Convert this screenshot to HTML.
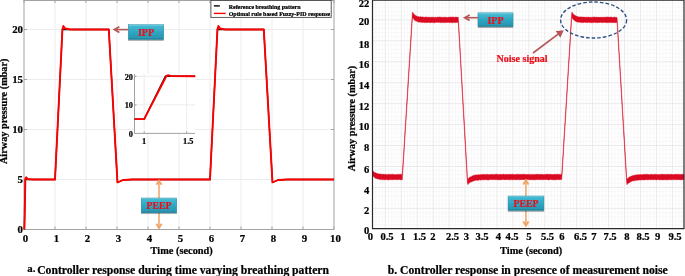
<!DOCTYPE html><html><head><meta charset="utf-8"><title>Controller response</title>
<style>html,body{margin:0;padding:0;background:#fff}svg{display:block}text{font-family:"Liberation Serif","Times New Roman",serif;font-weight:bold;fill:#000;stroke:#000;stroke-width:0.22px}.r{fill:#e8111a;stroke:#e8111a}</style>
</head><body>
<svg width="685" height="276" viewBox="0 0 685 276">
<defs>
<linearGradient id="tb" x1="0" y1="0" x2="0" y2="1"><stop offset="0" stop-color="#8fdcec"/><stop offset="0.1" stop-color="#45b9d3"/><stop offset="0.5" stop-color="#2ea6c2"/><stop offset="0.88" stop-color="#2a98b3"/><stop offset="1" stop-color="#1d748c"/></linearGradient>
<filter id="sh" x="-10%" y="-10%" width="125%" height="140%"><feGaussianBlur in="SourceAlpha" stdDeviation="0.55"/><feOffset dx="0.4" dy="0.6" result="o"/><feComponentTransfer><feFuncA type="linear" slope="0.4"/></feComponentTransfer><feMerge><feMergeNode/><feMergeNode in="SourceGraphic"/></feMerge></filter>
</defs>
<rect width="685" height="276" fill="#fff"/>
<g id="left-chart">
<path d="M55.0 0V229.5M86.0 0V229.5M117.0 0V229.5M148.0 0V229.5M179.0 0V229.5M210.0 0V229.5M241.0 0V229.5M272.0 0V229.5M303.0 0V229.5M24.0 179.50H334.0M24.0 129.50H334.0M24.0 79.50H334.0M24.0 29.50H334.0" stroke="#ececec" stroke-width="1" fill="none"/>
<path d="M24.0 0V229.5H334.0V0M24.0 0.5H334.0" stroke="#a2a2a2" stroke-width="1" fill="none"/>
<path d="M24.0 229.5v-3M24.0 0v3M55.0 229.5v-3M55.0 0v3M86.0 229.5v-3M86.0 0v3M117.0 229.5v-3M117.0 0v3M148.0 229.5v-3M148.0 0v3M179.0 229.5v-3M179.0 0v3M210.0 229.5v-3M210.0 0v3M241.0 229.5v-3M241.0 0v3M272.0 229.5v-3M272.0 0v3M303.0 229.5v-3M303.0 0v3M334.0 229.5v-3M334.0 0v3M24.0 229.50h3M334.0 229.50h-3M24.0 179.50h3M334.0 179.50h-3M24.0 129.50h3M334.0 129.50h-3M24.0 79.50h3M334.0 79.50h-3M24.0 29.50h3M334.0 29.50h-3" stroke="#a2a2a2" stroke-width="1" fill="none"/>
<path d="M24.37 229.50L25.39 179.50L33.30 179.50L55.00 179.50L55.00 179.50L62.44 29.50L70.50 29.50L108.79 29.50L117.47 182.30L118.55 182.00L123.20 180.00L132.50 179.50L210.00 179.50L217.44 29.50L225.50 29.50L263.78 29.50L272.47 182.30L273.55 182.00L278.20 180.00L287.50 179.50L334.00 179.50" stroke="#000" stroke-width="1.3" fill="none" stroke-linejoin="miter"/>
<path d="M24.37 229.50L25.39 178.50L26.17 177.30L27.72 179.00L33.30 179.50L55.00 179.50L55.00 179.50L62.44 29.50L63.37 26.00L65.23 28.50L70.50 29.50L108.79 29.50L117.47 182.30L118.55 182.00L123.20 180.00L132.50 179.50L210.00 179.50L217.44 29.50L218.37 26.00L220.23 28.50L225.50 29.50L263.78 29.50L272.47 182.30L273.55 182.00L278.20 180.00L287.50 179.50L334.00 179.50" stroke="#ff0000" stroke-width="1.9" fill="none" stroke-linejoin="round"/>
<text x="25.5" y="241.5" font-size="10.8" text-anchor="middle">0</text>
<text x="56.5" y="241.5" font-size="10.8" text-anchor="middle">1</text>
<text x="87.5" y="241.5" font-size="10.8" text-anchor="middle">2</text>
<text x="118.5" y="241.5" font-size="10.8" text-anchor="middle">3</text>
<text x="149.5" y="241.5" font-size="10.8" text-anchor="middle">4</text>
<text x="180.5" y="241.5" font-size="10.8" text-anchor="middle">5</text>
<text x="211.5" y="241.5" font-size="10.8" text-anchor="middle">6</text>
<text x="242.5" y="241.5" font-size="10.8" text-anchor="middle">7</text>
<text x="273.5" y="241.5" font-size="10.8" text-anchor="middle">8</text>
<text x="304.5" y="241.5" font-size="10.8" text-anchor="middle">9</text>
<text x="335.5" y="241.5" font-size="10.8" text-anchor="middle">10</text>
<text x="23" y="233.3" font-size="10.8" text-anchor="end">0</text>
<text x="23" y="183.3" font-size="10.8" text-anchor="end">5</text>
<text x="23" y="133.3" font-size="10.8" text-anchor="end">10</text>
<text x="23" y="83.3" font-size="10.8" text-anchor="end">15</text>
<text x="23" y="33.4" font-size="10.8" text-anchor="end">20</text>
<text x="181.7" y="253.9" font-size="10.35" text-anchor="middle">Time (second)</text>
<text transform="translate(7.3 111.3) rotate(-90)" font-size="10.25" text-anchor="middle">Airway pressure (mbar)</text>
<rect x="210.9" y="0.5" width="120.3" height="16.9" fill="#fff" stroke="#4a4a4a" stroke-width="0.9"/>
<path d="M213.9 5.9H219.8" stroke="#000" stroke-width="1.4"/>
<path d="M213.9 13.4H225.7" stroke="#ff0000" stroke-width="1.4"/>
<text x="228.7" y="8.9" font-size="5.96">Reference breathing pattern</text>
<text x="228.7" y="16" font-size="5.96">Optimal rule based Fuzzy-PID response</text>
<rect x="134.5" y="74" width="60.5" height="59.4" fill="#fff"/>
<path d="M144.2 74V133.4M186.7 74V133.4M134.5 104.9H195M134.5 76.3H195" stroke="#ececec" stroke-width="1" fill="none"/>
<path d="M134.5 74V133.4H195" stroke="#a2a2a2" stroke-width="1" fill="none"/>
<path d="M134.5 104.9h2M134.5 76.3h2M144.2 133.4v-2M186.7 133.4v-2" stroke="#a2a2a2" stroke-width="1" fill="none"/>
<path d="M134.51 119.12L144.20 119.12L165.45 76.30L195.20 76.30" stroke="#000" stroke-width="1.4" fill="none"/>
<path d="M134.51 119.12L144.20 119.12L166.30 76.30L168.00 75.16L171.40 76.16L195.20 76.30" stroke="#ff0000" stroke-width="1.9" fill="none" stroke-linejoin="round"/>
<text x="133" y="136.9" font-size="8.3" text-anchor="end">0</text>
<text x="133" y="108.4" font-size="8.3" text-anchor="end">10</text>
<text x="133" y="79.8" font-size="8.3" text-anchor="end">20</text>
<text x="144.2" y="143.6" font-size="8.3" text-anchor="middle">1</text>
<text x="188.2" y="143.6" font-size="8.3" text-anchor="middle">1.5</text>
<rect x="128.4" y="24.6" width="35.2" height="14.9" fill="url(#tb)" stroke="#2a8fa8" stroke-width="0.5" filter="url(#sh)"/>
<text x="146.0" y="35.6" font-size="10" text-anchor="middle" class="r">IPP</text>
<path d="M128.3 29.6H115" stroke="#b65659" stroke-width="1.6" fill="none"/><path d="M119.4 26.8L114.3 29.6L119.4 32.4" stroke="#b65659" stroke-width="1.7" fill="none" stroke-linejoin="miter"/>
<path d="M159 181V227.6" stroke="#f0a367" stroke-width="1.5" fill="none"/><path d="M156.4 184.8L159 180.6L161.6 184.8M156.4 223.8L159 228L161.6 223.8" fill="none" stroke="#f0a367" stroke-width="1.8"/>
<rect x="141.3" y="198" width="35.4" height="14.8" fill="url(#tb)" stroke="#2a8fa8" stroke-width="0.5" filter="url(#sh)"/>
<text x="159.0" y="208.7" font-size="9.7" text-anchor="middle" class="r">PEEP</text>
<text x="27.3" y="272.1" font-size="10.8">a.</text>
<text x="37.2" y="273.5" font-size="11.66">Controller response during time varying breathing pattern</text>
</g>
<g id="right-chart">
<path d="M375.78 1V228.6M378.97 1V228.6M382.16 1V228.6M388.54 1V228.6M391.73 1V228.6M394.92 1V228.6M398.10 1V228.6M404.48 1V228.6M407.67 1V228.6M410.86 1V228.6M414.05 1V228.6M420.43 1V228.6M423.62 1V228.6M426.81 1V228.6M430.00 1V228.6M436.38 1V228.6M439.57 1V228.6M442.76 1V228.6M445.95 1V228.6M452.32 1V228.6M455.51 1V228.6M458.70 1V228.6M461.89 1V228.6M468.27 1V228.6M471.46 1V228.6M474.65 1V228.6M477.84 1V228.6M484.22 1V228.6M487.41 1V228.6M490.60 1V228.6M493.79 1V228.6M500.17 1V228.6M503.35 1V228.6M506.54 1V228.6M509.73 1V228.6M516.11 1V228.6M519.30 1V228.6M522.49 1V228.6M525.68 1V228.6M532.06 1V228.6M535.25 1V228.6M538.44 1V228.6M541.63 1V228.6M548.01 1V228.6M551.20 1V228.6M554.39 1V228.6M557.57 1V228.6M563.95 1V228.6M567.14 1V228.6M570.33 1V228.6M573.52 1V228.6M579.90 1V228.6M583.09 1V228.6M586.28 1V228.6M589.47 1V228.6M595.85 1V228.6M599.04 1V228.6M602.23 1V228.6M605.42 1V228.6M611.79 1V228.6M614.98 1V228.6M618.17 1V228.6M621.36 1V228.6M627.74 1V228.6M630.93 1V228.6M634.12 1V228.6M637.31 1V228.6M643.69 1V228.6M646.88 1V228.6M650.07 1V228.6M653.26 1V228.6M659.64 1V228.6M662.82 1V228.6M666.01 1V228.6M669.20 1V228.6M675.58 1V228.6M678.77 1V228.6M681.96 1V228.6M372.5 225.11H684.0M372.5 220.92H684.0M372.5 216.74H684.0M372.5 212.55H684.0M372.5 204.17H684.0M372.5 199.98H684.0M372.5 195.80H684.0M372.5 191.61H684.0M372.5 183.23H684.0M372.5 179.04H684.0M372.5 174.86H684.0M372.5 170.67H684.0M372.5 162.29H684.0M372.5 158.10H684.0M372.5 153.92H684.0M372.5 149.73H684.0M372.5 141.35H684.0M372.5 137.16H684.0M372.5 132.98H684.0M372.5 128.79H684.0M372.5 120.41H684.0M372.5 116.22H684.0M372.5 112.04H684.0M372.5 107.85H684.0M372.5 99.47H684.0M372.5 95.28H684.0M372.5 91.10H684.0M372.5 86.91H684.0M372.5 78.53H684.0M372.5 74.34H684.0M372.5 70.16H684.0M372.5 65.97H684.0M372.5 57.59H684.0M372.5 53.40H684.0M372.5 49.22H684.0M372.5 45.03H684.0M372.5 36.65H684.0M372.5 32.46H684.0M372.5 28.28H684.0M372.5 24.09H684.0M372.5 15.71H684.0M372.5 11.52H684.0M372.5 7.34H684.0M372.5 3.15H684.0" stroke="#f6f6f6" stroke-width="0.8" fill="none"/>
<path d="M385.35 1V228.6M401.29 1V228.6M417.24 1V228.6M433.19 1V228.6M449.13 1V228.6M465.08 1V228.6M481.03 1V228.6M496.98 1V228.6M512.92 1V228.6M528.87 1V228.6M544.82 1V228.6M560.76 1V228.6M576.71 1V228.6M592.66 1V228.6M608.61 1V228.6M624.55 1V228.6M640.50 1V228.6M656.45 1V228.6M672.39 1V228.6M372.5 208.36H684.0M372.5 187.42H684.0M372.5 166.48H684.0M372.5 145.54H684.0M372.5 124.60H684.0M372.5 103.66H684.0M372.5 82.72H684.0M372.5 61.78H684.0M372.5 40.84H684.0M372.5 19.90H684.0" stroke="#eaeaea" stroke-width="1" fill="none"/>
<path d="M372.50 170.07L372.85 170.39L373.20 170.90L373.55 171.56L373.90 171.92L374.25 172.21L374.60 172.29L374.95 172.70L375.30 172.64L375.65 172.86L376.00 172.81L376.35 173.02L376.70 173.54L377.05 173.57L377.40 173.74L377.75 173.58L378.10 173.71L378.45 174.05L378.80 173.78L379.15 174.03L379.50 174.01L379.85 173.86L380.20 174.20L380.55 174.08L380.90 174.00L381.25 173.89L381.60 174.23L381.95 174.39L382.30 174.47L382.65 174.09L383.00 174.04L383.35 174.16L383.70 174.23L384.05 174.10L384.40 174.31L384.75 174.54L385.10 174.23L385.45 174.14L385.80 174.38L386.15 174.59L386.50 174.51L386.85 174.58L387.20 174.54L387.55 174.40L387.90 174.57L388.25 174.32L388.60 174.17L388.95 174.47L389.30 174.43L389.65 174.10L390.00 174.53L390.35 174.50L390.70 174.31L391.05 174.63L391.40 174.43L391.75 174.11L392.10 174.35L392.45 174.26L392.80 174.14L393.15 174.16L393.50 174.42L393.85 174.58L394.20 174.60L394.55 174.52L394.90 174.45L395.25 174.64L395.60 174.58L395.95 174.62L396.30 174.30L396.65 174.50L397.00 174.44L397.35 174.17L397.70 174.38L398.05 174.59L398.40 174.45L398.75 174.18L399.10 174.63L399.45 174.35L399.80 174.34L400.15 174.35L400.50 174.16L400.85 174.50L401.20 174.55L401.55 174.35L401.90 174.46L402.25 174.19L402.60 169.34L402.95 163.75L403.30 158.47L403.65 152.79L404.00 147.37L404.35 141.63L404.70 135.64L405.05 130.04L405.40 124.43L405.75 119.22L406.10 113.63L406.45 107.79L406.80 102.06L407.15 96.55L407.50 91.26L407.85 85.20L408.20 79.68L408.55 74.38L408.90 68.69L409.25 62.73L409.60 57.44L409.95 51.65L410.30 46.38L410.65 40.34L411.00 35.15L411.35 29.08L411.70 23.82L412.05 18.33L412.40 12.27L412.75 12.27L413.10 12.91L413.45 13.22L413.80 13.99L414.15 14.40L414.50 14.74L414.85 15.12L415.20 15.27L415.55 15.38L415.90 15.68L416.25 15.82L416.60 15.97L416.95 16.16L417.30 16.53L417.65 16.54L418.00 16.34L418.35 16.64L418.70 16.59L419.05 16.90L419.40 16.88L419.75 16.65L420.10 16.81L420.45 16.65L420.80 16.85L421.15 16.94L421.50 17.00L421.85 17.01L422.20 16.91L422.55 16.79L422.90 17.02L423.25 16.88L423.60 17.28L423.95 17.32L424.30 17.33L424.65 16.95L425.00 17.30L425.35 17.03L425.70 16.91L426.05 17.28L426.40 17.19L426.75 16.87L427.10 17.33L427.45 17.13L427.80 17.31L428.15 17.03L428.50 17.12L428.85 17.42L429.20 17.09L429.55 17.39L429.90 17.00L430.25 17.37L430.60 17.41L430.95 17.28L431.30 17.20L431.65 16.98L432.00 17.35L432.35 17.12L432.70 17.39L433.05 17.06L433.40 17.40L433.75 17.09L434.10 17.39L434.45 17.40L434.80 17.19L435.15 17.13L435.50 17.29L435.85 17.15L436.20 17.38L436.55 17.41L436.90 17.27L437.25 17.02L437.60 17.16L437.95 17.25L438.30 17.30L438.65 17.04L439.00 17.34L439.35 16.93L439.70 16.99L440.05 17.17L440.40 17.22L440.75 17.06L441.10 17.25L441.45 17.05L441.80 17.22L442.15 17.41L442.50 17.40L442.85 17.30L443.20 17.39L443.55 16.96L443.90 17.28L444.25 17.28L444.60 17.35L444.95 17.29L445.30 16.90L445.65 17.31L446.00 17.27L446.35 17.44L446.70 17.18L447.05 17.33L447.40 17.44L447.75 17.39L448.10 17.42L448.45 17.27L448.80 17.12L449.15 17.03L449.50 17.05L449.85 17.23L450.20 16.90L450.55 17.04L450.90 17.42L451.25 16.95L451.60 17.04L451.95 17.36L452.30 17.16L452.65 17.00L453.00 17.12L453.35 17.06L453.70 17.31L454.05 17.37L454.40 17.38L454.75 17.13L455.10 17.10L455.45 17.17L455.80 17.00L456.15 17.16L456.50 17.08L456.85 17.03L457.20 17.40L457.55 17.04L457.90 17.03L458.25 17.17L458.60 22.44L458.95 28.46L459.30 34.70L459.65 41.15L460.00 46.99L460.35 53.26L460.70 59.71L461.05 65.55L461.40 71.72L461.75 77.98L462.10 84.18L462.45 90.12L462.80 96.25L463.15 102.95L463.50 108.68L463.85 115.05L464.20 121.36L464.55 127.53L464.90 133.74L465.25 139.47L465.60 145.72L465.95 151.85L466.30 158.39L466.65 164.42L467.00 170.86L467.35 176.78L467.70 179.36L468.05 178.89L468.40 178.72L468.75 177.94L469.10 177.60L469.45 177.34L469.80 177.38L470.15 176.81L470.50 176.95L470.85 176.80L471.20 176.71L471.55 176.45L471.90 176.31L472.25 176.03L472.60 175.97L472.95 175.57L473.30 175.60L473.65 175.33L474.00 175.36L474.35 175.26L474.70 175.17L475.05 175.35L475.40 174.93L475.75 175.12L476.10 175.16L476.45 174.73L476.80 174.86L477.15 174.87L477.50 175.04L477.85 174.98L478.20 174.79L478.55 174.53L478.90 174.75L479.25 174.86L479.60 174.75L479.95 174.79L480.30 174.58L480.65 174.46L481.00 174.63L481.35 174.63L481.70 174.79L482.05 174.28L482.40 174.52L482.75 174.31L483.10 174.62L483.45 174.54L483.80 174.23L484.15 174.26L484.50 174.72L484.85 174.24L485.20 174.40L485.55 174.50L485.90 174.26L486.25 174.17L486.60 174.64L486.95 174.41L487.30 174.17L487.65 174.33L488.00 174.43L488.35 174.66L488.70 174.55L489.05 174.32L489.40 174.60L489.75 174.32L490.10 174.60L490.45 174.38L490.80 174.45L491.15 174.33L491.50 174.49L491.85 174.13L492.20 174.17L492.55 174.53L492.90 174.13L493.25 174.48L493.60 174.38L493.95 174.42L494.30 174.28L494.65 174.52L495.00 174.46L495.35 174.27L495.70 174.21L496.05 174.37L496.40 174.11L496.75 174.19L497.10 174.52L497.45 174.48L497.80 174.37L498.15 174.52L498.50 174.28L498.85 174.56L499.20 174.53L499.55 174.56L499.90 174.61L500.25 174.15L500.60 174.24L500.95 174.13L501.30 174.54L501.65 174.23L502.00 174.28L502.35 174.44L502.70 174.55L503.05 174.49L503.40 174.12L503.75 174.11L504.10 174.44L504.45 174.19L504.80 174.61L505.15 174.44L505.50 174.53L505.85 174.15L506.20 174.41L506.55 174.22L506.90 174.62L507.25 174.13L507.60 174.23L507.95 174.45L508.30 174.11L508.65 174.50L509.00 174.47L509.35 174.64L509.70 174.14L510.05 174.12L510.40 174.51L510.75 174.11L511.10 174.43L511.45 174.40L511.80 174.13L512.15 174.20L512.50 174.19L512.85 174.31L513.20 174.46L513.55 174.21L513.90 174.53L514.25 174.50L514.60 174.62L514.95 174.46L515.30 174.15L515.65 174.49L516.00 174.59L516.35 174.25L516.70 174.51L517.05 174.30L517.40 174.23L517.75 174.27L518.10 174.18L518.45 174.33L518.80 174.23L519.15 174.50L519.50 174.56L519.85 174.32L520.20 174.42L520.55 174.36L520.90 174.19L521.25 174.09L521.60 174.38L521.95 174.18L522.30 174.62L522.65 174.57L523.00 174.10L523.35 174.13L523.70 174.16L524.05 174.50L524.40 174.12L524.75 174.31L525.10 174.52L525.45 174.56L525.80 174.50L526.15 174.28L526.50 174.63L526.85 174.27L527.20 174.47L527.55 174.20L527.90 174.60L528.25 174.42L528.60 174.29L528.95 174.55L529.30 174.41L529.65 174.47L530.00 174.47L530.35 174.44L530.70 174.16L531.05 174.44L531.40 174.24L531.75 174.64L532.10 174.41L532.45 174.42L532.80 174.39L533.15 174.63L533.50 174.29L533.85 174.59L534.20 174.44L534.55 174.56L534.90 174.35L535.25 174.58L535.60 174.20L535.95 174.53L536.30 174.12L536.65 174.37L537.00 174.13L537.35 174.14L537.70 174.19L538.05 174.21L538.40 174.42L538.75 174.18L539.10 174.52L539.45 174.35L539.80 174.57L540.15 174.24L540.50 174.62L540.85 174.22L541.20 174.18L541.55 174.31L541.90 174.29L542.25 174.41L542.60 174.41L542.95 174.39L543.30 174.63L543.65 174.37L544.00 174.22L544.35 174.39L544.70 174.38L545.05 174.57L545.40 174.59L545.75 174.36L546.10 174.29L546.45 174.24L546.80 174.36L547.15 174.36L547.50 174.12L547.85 174.17L548.20 174.24L548.55 174.53L548.90 174.37L549.25 174.14L549.60 174.21L549.95 174.60L550.30 174.22L550.65 174.15L551.00 174.19L551.35 174.36L551.70 174.53L552.05 174.36L552.40 174.62L552.75 174.55L553.10 174.27L553.45 174.55L553.80 174.58L554.15 174.29L554.50 174.16L554.85 174.32L555.20 174.58L555.55 174.29L555.90 174.20L556.25 174.09L556.60 174.44L556.95 174.40L557.30 174.23L557.65 174.19L558.00 174.29L558.35 174.32L558.70 174.47L559.05 174.62L559.40 174.30L559.75 174.36L560.10 174.57L560.45 174.28L560.80 174.64L561.15 174.58L561.50 174.52L561.85 172.68L562.20 166.97L562.55 161.55L562.90 155.80L563.25 150.19L563.60 144.07L563.95 138.63L564.30 133.16L564.65 127.16L565.00 121.43L565.35 115.57L565.70 110.26L566.05 104.68L566.40 98.79L566.75 93.29L567.10 87.62L567.45 81.42L567.80 76.14L568.15 70.28L568.50 64.42L568.85 59.00L569.20 53.45L569.55 47.36L569.90 42.09L570.25 36.00L570.60 30.31L570.95 24.90L571.30 19.20L571.65 13.46L572.00 12.09L572.35 12.68L572.70 13.29L573.05 13.63L573.40 14.33L573.75 14.30L574.10 14.66L574.45 15.28L574.80 15.26L575.15 15.47L575.50 15.59L575.85 16.11L576.20 16.04L576.55 16.15L576.90 16.37L577.25 16.34L577.60 16.57L577.95 16.57L578.30 16.84L578.65 16.97L579.00 16.98L579.35 17.05L579.70 16.96L580.05 17.17L580.40 16.83L580.75 16.86L581.10 17.23L581.45 17.09L581.80 16.85L582.15 17.29L582.50 16.83L582.85 17.29L583.20 17.30L583.55 16.90L583.90 17.03L584.25 17.04L584.60 17.34L584.95 16.98L585.30 17.23L585.65 17.40L586.00 17.26L586.35 17.21L586.70 16.89L587.05 16.95L587.40 17.41L587.75 17.18L588.10 17.24L588.45 17.13L588.80 16.96L589.15 16.98L589.50 17.43L589.85 17.01L590.20 17.43L590.55 17.16L590.90 17.33L591.25 17.24L591.60 17.29L591.95 17.28L592.30 17.05L592.65 17.38L593.00 17.39L593.35 17.05L593.70 17.09L594.05 17.22L594.40 16.95L594.75 16.95L595.10 17.33L595.45 16.94L595.80 17.23L596.15 17.31L596.50 17.15L596.85 17.02L597.20 17.25L597.55 17.35L597.90 17.08L598.25 17.35L598.60 17.01L598.95 17.37L599.30 16.95L599.65 17.33L600.00 17.05L600.35 17.35L600.70 17.30L601.05 17.15L601.40 17.26L601.75 16.90L602.10 17.38L602.45 17.38L602.80 16.90L603.15 17.04L603.50 17.33L603.85 17.38L604.20 17.23L604.55 17.22L604.90 17.06L605.25 17.09L605.60 17.36L605.95 17.22L606.30 16.94L606.65 17.12L607.00 17.21L607.35 17.04L607.70 17.01L608.05 16.97L608.40 17.09L608.75 17.27L609.10 17.39L609.45 17.01L609.80 17.09L610.15 17.21L610.50 17.10L610.85 17.07L611.20 17.34L611.55 17.01L611.90 17.17L612.25 17.42L612.60 17.35L612.95 16.92L613.30 17.38L613.65 17.14L614.00 17.16L614.35 16.98L614.70 17.21L615.05 17.32L615.40 17.22L615.75 17.37L616.10 17.24L616.45 17.29L616.80 17.43L617.15 18.24L617.50 24.15L617.85 30.09L618.20 35.58L618.55 41.85L618.90 47.63L619.25 53.65L619.60 59.15L619.95 65.21L620.30 71.22L620.65 77.03L621.00 82.65L621.35 88.72L621.70 94.55L622.05 100.27L622.40 106.13L622.75 112.27L623.10 118.12L623.45 124.23L623.80 129.95L624.15 135.81L624.50 141.62L624.85 147.37L625.20 153.09L625.55 159.45L625.90 164.86L626.25 171.15L626.60 176.76L626.95 179.44L627.30 178.71L627.65 178.67L628.00 178.28L628.35 177.92L628.70 177.34L629.05 177.50L629.40 177.03L629.75 176.78L630.10 176.52L630.45 176.66L630.80 176.31L631.15 176.21L631.50 176.00L631.85 176.05L632.20 175.79L632.55 175.69L632.90 175.58L633.25 175.46L633.60 175.66L633.95 175.33L634.30 175.15L634.65 175.24L635.00 174.85L635.35 174.97L635.70 175.25L636.05 174.84L636.40 174.99L636.75 174.85L637.10 174.60L637.45 174.66L637.80 174.84L638.15 174.79L638.50 174.68L638.85 174.83L639.20 174.69L639.55 174.44L639.90 174.42L640.25 174.58L640.60 174.56L640.95 174.47L641.30 174.63L641.65 174.63L642.00 174.44L642.35 174.75L642.70 174.28L643.05 174.73L643.40 174.74L643.75 174.23L644.10 174.37L644.45 174.22L644.80 174.38L645.15 174.33L645.50 174.33L645.85 174.33L646.20 174.28L646.55 174.59L646.90 174.26L647.25 174.32L647.60 174.23L647.95 174.37L648.30 174.51L648.65 174.50L649.00 174.32L649.35 174.64L649.70 174.64L650.05 174.22L650.40 174.16L650.75 174.65L651.10 174.33L651.45 174.12L651.80 174.43L652.15 174.30L652.50 174.57L652.85 174.65L653.20 174.58L653.55 174.60L653.90 174.58L654.25 174.25L654.60 174.24L654.95 174.62L655.30 174.25L655.65 174.24L656.00 174.30L656.35 174.39L656.70 174.50L657.05 174.25L657.40 174.64L657.75 174.19L658.10 174.47L658.45 174.55L658.80 174.38L659.15 174.44L659.50 174.40L659.85 174.56L660.20 174.44L660.55 174.30L660.90 174.43L661.25 174.12L661.60 174.33L661.95 174.61L662.30 174.25L662.65 174.46L663.00 174.10L663.35 174.31L663.70 174.40L664.05 174.43L664.40 174.31L664.75 174.20L665.10 174.64L665.45 174.41L665.80 174.19L666.15 174.62L666.50 174.19L666.85 174.33L667.20 174.17L667.55 174.26L667.90 174.45L668.25 174.34L668.60 174.53L668.95 174.13L669.30 174.31L669.65 174.38L670.00 174.50L670.35 174.20L670.70 174.59L671.05 174.22L671.40 174.32L671.75 174.15L672.10 174.38L672.45 174.54L672.80 174.54L673.15 174.44L673.50 174.42L673.85 174.56L674.20 174.09L674.55 174.58L674.90 174.21L675.25 174.31L675.60 174.35L675.95 174.62L676.30 174.16L676.65 174.33L677.00 174.21L677.35 174.12L677.70 174.19L678.05 174.50L678.40 174.53L678.75 174.59L679.10 174.33L679.45 174.39L679.80 174.14L680.15 174.31L680.50 174.57L680.85 174.50L681.20 174.29L681.55 174.27L681.90 174.39L682.25 174.11L682.60 174.52L682.95 174.50L683.30 174.14L683.65 174.18L684.00 174.21L684.00 179.85L683.65 179.49L683.30 179.96L682.95 179.65L682.60 179.48L682.25 180.01L681.90 179.55L681.55 179.68L681.20 179.99L680.85 179.77L680.50 179.99L680.15 179.68L679.80 179.50L679.45 179.98L679.10 179.94L678.75 179.49L678.40 179.56L678.05 179.48L677.70 179.99L677.35 179.88L677.00 179.69L676.65 179.60L676.30 179.73L675.95 180.01L675.60 179.47L675.25 179.65L674.90 179.55L674.55 179.81L674.20 179.67L673.85 179.49L673.50 179.74L673.15 179.77L672.80 179.85L672.45 179.57L672.10 179.78L671.75 179.75L671.40 179.95L671.05 179.59L670.70 179.90L670.35 179.71L670.00 179.87L669.65 179.57L669.30 179.83L668.95 179.59L668.60 179.87L668.25 179.90L667.90 179.51L667.55 179.96L667.20 179.90L666.85 179.61L666.50 179.94L666.15 179.92L665.80 179.95L665.45 179.78L665.10 179.61L664.75 179.62L664.40 179.95L664.05 179.84L663.70 179.95L663.35 179.63L663.00 179.92L662.65 179.79L662.30 179.92L661.95 180.00L661.60 179.62L661.25 179.89L660.90 179.89L660.55 179.69L660.20 179.82L659.85 179.90L659.50 179.84L659.15 179.78L658.80 179.50L658.45 179.94L658.10 179.87L657.75 179.51L657.40 179.82L657.05 179.47L656.70 180.00L656.35 179.98L656.00 179.86L655.65 179.51L655.30 179.94L654.95 179.89L654.60 179.57L654.25 179.60L653.90 179.48L653.55 179.95L653.20 180.00L652.85 179.85L652.50 179.48L652.15 179.59L651.80 179.53L651.45 179.74L651.10 179.99L650.75 179.69L650.40 179.73L650.05 179.80L649.70 179.55L649.35 179.80L649.00 180.00L648.65 179.73L648.30 179.73L647.95 179.64L647.60 179.93L647.25 179.71L646.90 180.01L646.55 179.53L646.20 179.57L645.85 179.77L645.50 179.64L645.15 179.86L644.80 179.88L644.45 179.88L644.10 179.98L643.75 179.89L643.40 179.67L643.05 179.74L642.70 179.88L642.35 179.99L642.00 180.04L641.65 179.94L641.30 179.81L640.95 180.08L640.60 180.20L640.25 179.83L639.90 179.92L639.55 179.88L639.20 180.04L638.85 180.00L638.50 180.21L638.15 180.08L637.80 180.32L637.45 180.22L637.10 179.93L636.75 180.22L636.40 180.54L636.05 180.55L635.70 180.43L635.35 180.49L635.00 180.24L634.65 180.49L634.30 180.79L633.95 180.72L633.60 180.95L633.25 181.05L632.90 180.94L632.55 180.85L632.20 180.91L631.85 181.08L631.50 181.28L631.15 181.76L630.80 181.83L630.45 181.97L630.10 182.23L629.75 182.46L629.40 182.61L629.05 182.90L628.70 183.10L628.35 183.02L628.00 183.65L627.65 183.62L627.30 184.03L626.95 184.79L626.60 181.94L626.25 176.51L625.90 170.61L625.55 164.76L625.20 158.90L624.85 152.75L624.50 147.02L624.15 141.06L623.80 135.06L623.45 129.44L623.10 123.27L622.75 117.44L622.40 111.57L622.05 105.74L621.70 99.74L621.35 93.96L621.00 88.37L620.65 82.39L620.30 76.70L619.95 70.60L619.60 64.77L619.25 58.97L618.90 52.78L618.55 47.23L618.20 41.20L617.85 35.45L617.50 29.31L617.15 23.67L616.80 22.49L616.45 22.48L616.10 22.29L615.75 22.80L615.40 22.68L615.05 22.64L614.70 22.78L614.35 22.55L614.00 22.61L613.65 22.65L613.30 22.58L612.95 22.55L612.60 22.69L612.25 22.56L611.90 22.80L611.55 22.47L611.20 22.62L610.85 22.77L610.50 22.49L610.15 22.51L609.80 22.40L609.45 22.65L609.10 22.49L608.75 22.61L608.40 22.51L608.05 22.63L607.70 22.65L607.35 22.74L607.00 22.39L606.65 22.67L606.30 22.50L605.95 22.67L605.60 22.59L605.25 22.52L604.90 22.54L604.55 22.70L604.20 22.28L603.85 22.37L603.50 22.61L603.15 22.50L602.80 22.70L602.45 22.47L602.10 22.79L601.75 22.66L601.40 22.36L601.05 22.35L600.70 22.44L600.35 22.35L600.00 22.72L599.65 22.43L599.30 22.39L598.95 22.51L598.60 22.58L598.25 22.50L597.90 22.67L597.55 22.72L597.20 22.44L596.85 22.62L596.50 22.67L596.15 22.51L595.80 22.75L595.45 22.54L595.10 22.40L594.75 22.27L594.40 22.31L594.05 22.48L593.70 22.45L593.35 22.69L593.00 22.69L592.65 22.61L592.30 22.53L591.95 22.38L591.60 22.78L591.25 22.71L590.90 22.53L590.55 22.69L590.20 22.52L589.85 22.79L589.50 22.36L589.15 22.35L588.80 22.30L588.45 22.37L588.10 22.63L587.75 22.67L587.40 22.47L587.05 22.58L586.70 22.52L586.35 22.41L586.00 22.63L585.65 22.37L585.30 22.46L584.95 22.33L584.60 22.27L584.25 22.36L583.90 22.65L583.55 22.64L583.20 22.20L582.85 22.28L582.50 22.68L582.15 22.62L581.80 22.62L581.45 22.56L581.10 22.41L580.75 22.47L580.40 22.38L580.05 22.03L579.70 22.05L579.35 22.44L579.00 21.90L578.65 22.33L578.30 22.12L577.95 21.88L577.60 22.03L577.25 22.02L576.90 21.91L576.55 21.87L576.20 21.59L575.85 21.56L575.50 21.07L575.15 20.88L574.80 21.01L574.45 20.38L574.10 19.98L573.75 19.77L573.40 19.65L573.05 19.17L572.70 18.66L572.35 18.04L572.00 17.75L571.65 18.87L571.30 24.17L570.95 29.90L570.60 35.78L570.25 41.48L569.90 47.38L569.55 53.00L569.20 58.79L568.85 64.16L568.50 69.78L568.15 75.73L567.80 81.40L567.45 86.84L567.10 92.76L566.75 98.57L566.40 103.97L566.05 109.82L565.70 115.72L565.35 121.31L565.00 126.85L564.65 132.49L564.30 138.34L563.95 143.82L563.60 149.80L563.25 155.41L562.90 160.83L562.55 166.96L562.20 172.40L561.85 177.94L561.50 179.78L561.15 179.66L560.80 179.66L560.45 179.47L560.10 179.59L559.75 179.95L559.40 179.70L559.05 179.54L558.70 179.46L558.35 179.83L558.00 180.00L557.65 179.60L557.30 179.49L556.95 179.56L556.60 179.88L556.25 179.78L555.90 179.61L555.55 179.68L555.20 180.01L554.85 179.95L554.50 179.77L554.15 179.66L553.80 179.75L553.45 179.89L553.10 179.95L552.75 179.98L552.40 179.56L552.05 179.64L551.70 179.60L551.35 179.97L551.00 179.54L550.65 179.61L550.30 179.55L549.95 179.65L549.60 179.97L549.25 179.55L548.90 179.99L548.55 180.00L548.20 179.91L547.85 180.01L547.50 179.54L547.15 179.67L546.80 179.49L546.45 179.89L546.10 179.51L545.75 179.48L545.40 179.70L545.05 179.70L544.70 179.52L544.35 179.56L544.00 179.89L543.65 179.59L543.30 179.80L542.95 179.70L542.60 179.82L542.25 179.78L541.90 179.63L541.55 179.76L541.20 179.53L540.85 179.48L540.50 179.77L540.15 179.95L539.80 179.60L539.45 179.67L539.10 179.68L538.75 179.56L538.40 179.93L538.05 179.58L537.70 179.55L537.35 179.80L537.00 179.67L536.65 179.49L536.30 180.00L535.95 179.53L535.60 179.99L535.25 179.73L534.90 179.97L534.55 179.62L534.20 179.74L533.85 179.80L533.50 179.96L533.15 179.76L532.80 179.55L532.45 179.95L532.10 179.91L531.75 179.96L531.40 179.57L531.05 179.57L530.70 180.01L530.35 179.69L530.00 179.77L529.65 179.98L529.30 179.62L528.95 179.84L528.60 179.51L528.25 179.76L527.90 179.52L527.55 179.76L527.20 179.57L526.85 179.56L526.50 179.64L526.15 179.57L525.80 179.79L525.45 179.57L525.10 179.66L524.75 179.80L524.40 179.52L524.05 179.89L523.70 179.71L523.35 179.67L523.00 179.78L522.65 179.56L522.30 179.62L521.95 179.96L521.60 179.91L521.25 179.52L520.90 179.82L520.55 179.59L520.20 180.01L519.85 179.64L519.50 179.95L519.15 179.60L518.80 179.57L518.45 179.67L518.10 179.62L517.75 179.53L517.40 179.93L517.05 179.83L516.70 179.69L516.35 179.71L516.00 179.73L515.65 179.51L515.30 180.00L514.95 180.00L514.60 179.76L514.25 179.50L513.90 179.87L513.55 179.50L513.20 179.66L512.85 179.64L512.50 179.89L512.15 179.87L511.80 179.56L511.45 179.73L511.10 179.60L510.75 179.99L510.40 179.72L510.05 179.47L509.70 179.81L509.35 179.88L509.00 179.61L508.65 179.85L508.30 179.80L507.95 179.61L507.60 179.96L507.25 179.60L506.90 179.50L506.55 179.48L506.20 179.91L505.85 179.48L505.50 179.66L505.15 179.97L504.80 179.72L504.45 179.70L504.10 179.91L503.75 179.58L503.40 179.53L503.05 179.66L502.70 179.46L502.35 179.64L502.00 179.67L501.65 179.48L501.30 179.98L500.95 179.64L500.60 180.01L500.25 179.95L499.90 179.68L499.55 179.49L499.20 180.00L498.85 179.68L498.50 179.99L498.15 179.69L497.80 179.57L497.45 179.99L497.10 179.88L496.75 179.59L496.40 179.64L496.05 179.58L495.70 179.87L495.35 179.58L495.00 179.70L494.65 179.49L494.30 179.98L493.95 179.61L493.60 179.84L493.25 179.49L492.90 179.86L492.55 179.61L492.20 179.74L491.85 179.83L491.50 179.73L491.15 179.49L490.80 179.61L490.45 179.81L490.10 179.53L489.75 179.87L489.40 179.63L489.05 179.66L488.70 180.00L488.35 179.93L488.00 179.81L487.65 179.93L487.30 179.91L486.95 179.89L486.60 179.60L486.25 179.66L485.90 180.00L485.55 180.05L485.20 179.54L484.85 179.81L484.50 179.95L484.15 179.58L483.80 180.04L483.45 179.83L483.10 179.73L482.75 179.72L482.40 179.96L482.05 179.70L481.70 179.80L481.35 179.85L481.00 179.97L480.65 179.92L480.30 180.21L479.95 179.88L479.60 179.81L479.25 179.84L478.90 179.89L478.55 180.39L478.20 180.00L477.85 180.41L477.50 180.04L477.15 180.21L476.80 180.21L476.45 180.23L476.10 180.55L475.75 180.39L475.40 180.33L475.05 180.36L474.70 180.76L474.35 180.73L474.00 180.60L473.65 180.97L473.30 181.27L472.95 181.33L472.60 181.52L472.25 181.23L471.90 181.42L471.55 181.94L471.20 182.05L470.85 181.80L470.50 182.20L470.15 182.50L469.80 182.62L469.45 182.82L469.10 183.32L468.75 183.29L468.40 183.95L468.05 184.35L467.70 184.45L467.35 182.02L467.00 175.95L466.65 169.52L466.30 163.83L465.95 157.55L465.60 151.27L465.25 144.89L464.90 138.93L464.55 132.79L464.20 126.82L463.85 120.27L463.50 114.48L463.15 108.03L462.80 102.12L462.45 95.54L462.10 89.32L461.75 83.34L461.40 77.07L461.05 71.12L460.70 64.71L460.35 58.40L460.00 52.39L459.65 46.19L459.30 39.92L458.95 34.04L458.60 27.90L458.25 22.47L457.90 22.80L457.55 22.37L457.20 22.41L456.85 22.40L456.50 22.30L456.15 22.55L455.80 22.67L455.45 22.26L455.10 22.63L454.75 22.61L454.40 22.72L454.05 22.46L453.70 22.28L453.35 22.64L453.00 22.75L452.65 22.71L452.30 22.72L451.95 22.55L451.60 22.71L451.25 22.61L450.90 22.72L450.55 22.61L450.20 22.34L449.85 22.44L449.50 22.74L449.15 22.62L448.80 22.55L448.45 22.39L448.10 22.27L447.75 22.48L447.40 22.41L447.05 22.54L446.70 22.54L446.35 22.47L446.00 22.46L445.65 22.79L445.30 22.56L444.95 22.79L444.60 22.51L444.25 22.51L443.90 22.39L443.55 22.63L443.20 22.72L442.85 22.35L442.50 22.67L442.15 22.33L441.80 22.45L441.45 22.61L441.10 22.72L440.75 22.80L440.40 22.54L440.05 22.72L439.70 22.50L439.35 22.32L439.00 22.52L438.65 22.56L438.30 22.27L437.95 22.27L437.60 22.36L437.25 22.42L436.90 22.43L436.55 22.37L436.20 22.35L435.85 22.39L435.50 22.33L435.15 22.77L434.80 22.45L434.45 22.73L434.10 22.73L433.75 22.70L433.40 22.77L433.05 22.49L432.70 22.29L432.35 22.64L432.00 22.76L431.65 22.40L431.30 22.76L430.95 22.33L430.60 22.68L430.25 22.40L429.90 22.79L429.55 22.79L429.20 22.53L428.85 22.43L428.50 22.49L428.15 22.25L427.80 22.42L427.45 22.43L427.10 22.47L426.75 22.69L426.40 22.50L426.05 22.75L425.70 22.75L425.35 22.29L425.00 22.60L424.65 22.69L424.30 22.56L423.95 22.31L423.60 22.41L423.25 22.23L422.90 22.66L422.55 22.27L422.20 22.59L421.85 22.61L421.50 22.36L421.15 22.42L420.80 22.29L420.45 22.22L420.10 22.35L419.75 22.17L419.40 21.99L419.05 22.09L418.70 22.15L418.35 21.93L418.00 21.86L417.65 21.72L417.30 21.79L416.95 21.32L416.60 21.09L416.25 21.21L415.90 21.24L415.55 21.02L415.20 20.54L414.85 20.51L414.50 19.93L414.15 19.67L413.80 19.11L413.45 18.61L413.10 18.45L412.75 17.89L412.40 17.98L412.05 23.24L411.70 29.14L411.35 34.80L411.00 40.51L410.65 46.10L410.30 51.35L409.95 56.97L409.60 63.00L409.25 68.31L408.90 74.14L408.55 79.74L408.20 85.17L407.85 90.95L407.50 96.49L407.15 102.17L406.80 107.61L406.45 113.44L406.10 118.67L405.75 124.29L405.40 129.97L405.05 135.92L404.70 141.23L404.35 146.98L404.00 152.36L403.65 157.83L403.30 163.70L402.95 169.43L402.60 175.08L402.25 180.00L401.90 179.58L401.55 179.89L401.20 179.88L400.85 179.66L400.50 179.84L400.15 180.00L399.80 179.47L399.45 179.54L399.10 179.98L398.75 179.55L398.40 179.61L398.05 179.52L397.70 179.73L397.35 180.01L397.00 179.53L396.65 179.65L396.30 179.54L395.95 179.94L395.60 179.66L395.25 179.54L394.90 179.49L394.55 179.55L394.20 179.50L393.85 179.81L393.50 179.68L393.15 179.90L392.80 179.89L392.45 179.49L392.10 179.80L391.75 179.83L391.40 179.77L391.05 179.68L390.70 179.60L390.35 179.72L390.00 179.58L389.65 179.53L389.30 179.93L388.95 179.67L388.60 179.92L388.25 179.93L387.90 179.69L387.55 179.92L387.20 179.57L386.85 179.85L386.50 179.49L386.15 179.68L385.80 179.79L385.45 179.57L385.10 179.95L384.75 179.78L384.40 179.76L384.05 179.90L383.70 179.62L383.35 179.69L383.00 179.52L382.65 179.65L382.30 179.68L381.95 179.57L381.60 179.69L381.25 179.32L380.90 179.38L380.55 179.68L380.20 179.48L379.85 179.51L379.50 179.24L379.15 179.35L378.80 179.21L378.45 179.02L378.10 178.87L377.75 178.96L377.40 178.98L377.05 179.01L376.70 178.51L376.35 178.47L376.00 178.19L375.65 178.21L375.30 178.33L374.95 177.71L374.60 177.80L374.25 177.12L373.90 177.00L373.55 176.69L373.20 176.22L372.85 175.61L372.50 175.15Z" fill="#d90a22" stroke="#d90a22" stroke-width="0.45" stroke-linejoin="round"/>
<path d="M372.5 0.3H684.0" stroke="#333" stroke-width="1" fill="none"/><path d="M372.5 0V228.6H684.0V0" stroke="#2a2a2a" stroke-width="1.2" fill="none"/>
<text x="369.4" y="6.8" font-size="10.6" text-anchor="end">22</text>
<text x="369.4" y="25.2" font-size="10.6" text-anchor="end">20</text>
<text x="369.4" y="47.5" font-size="10.6" text-anchor="end">18</text>
<text x="369.4" y="68.0" font-size="10.6" text-anchor="end">16</text>
<text x="369.4" y="88.5" font-size="10.6" text-anchor="end">14</text>
<text x="369.4" y="110.2" font-size="10.6" text-anchor="end">12</text>
<text x="369.4" y="129.8" font-size="10.6" text-anchor="end">10</text>
<text x="369.4" y="151.2" font-size="10.6" text-anchor="end">8</text>
<text x="369.4" y="172.8" font-size="10.6" text-anchor="end">6</text>
<text x="369.4" y="193.8" font-size="10.6" text-anchor="end">4</text>
<text x="369.4" y="214.2" font-size="10.6" text-anchor="end">2</text>
<text x="369.4" y="233.6" font-size="10.6" text-anchor="end">0</text>
<text x="370.5" y="240.35" font-size="10.6" text-anchor="middle">0</text>
<text x="387" y="240.35" font-size="10.6" text-anchor="middle">0.5</text>
<text x="403" y="240.35" font-size="10.6" text-anchor="middle">1</text>
<text x="419.5" y="240.35" font-size="10.6" text-anchor="middle">1.5</text>
<text x="433" y="240.35" font-size="10.6" text-anchor="middle">2</text>
<text x="452.5" y="240.35" font-size="10.6" text-anchor="middle">2.5</text>
<text x="466.5" y="240.35" font-size="10.6" text-anchor="middle">3</text>
<text x="482" y="240.35" font-size="10.6" text-anchor="middle">3.5</text>
<text x="498.5" y="240.35" font-size="10.6" text-anchor="middle">4</text>
<text x="512" y="240.35" font-size="10.6" text-anchor="middle">4.5</text>
<text x="529" y="240.35" font-size="10.6" text-anchor="middle">5</text>
<text x="547.5" y="240.35" font-size="10.6" text-anchor="middle">5.5</text>
<text x="562" y="240.35" font-size="10.6" text-anchor="middle">6</text>
<text x="580.5" y="240.35" font-size="10.6" text-anchor="middle">6.5</text>
<text x="594" y="240.35" font-size="10.6" text-anchor="middle">7</text>
<text x="610" y="240.35" font-size="10.6" text-anchor="middle">7.5</text>
<text x="627" y="240.35" font-size="10.6" text-anchor="middle">8</text>
<text x="643" y="240.35" font-size="10.6" text-anchor="middle">8.5</text>
<text x="657.7" y="240.35" font-size="10.6" text-anchor="middle">9</text>
<text x="675" y="240.35" font-size="10.6" text-anchor="middle">9.5</text>
<text x="531.2" y="253.9" font-size="10.35" text-anchor="middle">Time (second)</text>
<text transform="translate(355 118.5) rotate(-90)" font-size="10.25" text-anchor="middle">Airway pressure (mbar)</text>
<rect x="478" y="12.8" width="35" height="13.8" fill="url(#tb)" stroke="#2a8fa8" stroke-width="0.5" filter="url(#sh)"/>
<text x="495.5" y="23.6" font-size="10" text-anchor="middle" class="r">IPP</text>
<path d="M478 17.7H465" stroke="#b65659" stroke-width="1.6" fill="none"/><path d="M469.7 14.9L464.6 17.7L469.7 20.5" stroke="#b65659" stroke-width="1.7" fill="none"/>
<path d="M525.9 180.8V225.3" stroke="#f0a367" stroke-width="1.5" fill="none"/><path d="M523.3 184.5L525.9 180.3L528.5 184.5M523.3 221.5L525.9 225.7L528.5 221.5" fill="none" stroke="#f0a367" stroke-width="1.8"/>
<rect x="508.1" y="196" width="35.8" height="14.4" fill="url(#tb)" stroke="#2a8fa8" stroke-width="0.5" filter="url(#sh)"/>
<text x="526.0" y="206.7" font-size="9.8" text-anchor="middle" class="r">PEEP</text>
<ellipse cx="593.6" cy="20" rx="33" ry="18" fill="none" stroke="#2f4f82" stroke-width="1.35" stroke-dasharray="3.6 2"/>
<path d="M533 53L561.5 31.6" stroke="#b65659" stroke-width="1.6" fill="none"/><path d="M556.8 31.6L562.7 31.1L560.2 36.5Z" fill="#b65659" stroke="#b65659" stroke-width="1.3" stroke-linejoin="miter"/>
<text x="522.1" y="62" font-size="10.05" text-anchor="middle" class="r">Noise signal</text>
<text x="387.8" y="273.5" font-size="11.66">b. Controller response in presence of measurement noise</text>
</g>
</svg></body></html>
